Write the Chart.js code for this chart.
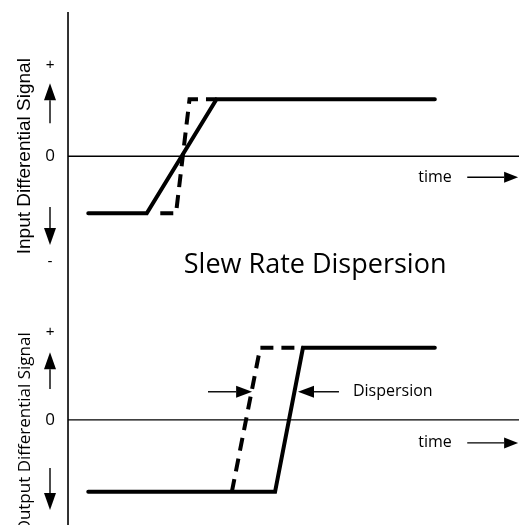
<!DOCTYPE html>
<html>
<head>
<meta charset="utf-8">
<script src="https://cdn.jsdelivr.net/npm/chart.js@4/dist/chart.umd.min.js"></script>
<style>
  html, body { margin: 0; padding: 0; background: #fff; }
  #wrap { width: 519px; height: 525px; position: relative; }
</style>
</head>
<body>
<div id="wrap"><canvas id="slewChart"></canvas></div>
<script>
// time in arbitrary units, signal in normalised units (-1 low, +1 high)
var inputSolidT  = [0.45, 1.75, 3.3, 8.15];
var inputSolidV  = [-1, -1, 1, 1];
var inputDashT   = [2.05, 2.4, 2.7, 3.3];
var inputDashV   = [-1, -1, 1, 1];
var outputSolidT = [0.45, 4.6, 5.22, 8.15];
var outputSolidV = [-1, -1, 1, 1];
var outputDashT  = [3.64, 4.27, 5.22];
var outputDashV  = [-1, 1, 1];

var panelLabels = ['Input Differential Signal', 'Output Differential Signal'];
var levelTicks  = ['+', '0', '-'];
var chartTitle  = 'Slew Rate Dispersion';

function pts(ts, vs) {
    return ts.map(function (t, i) { return { x: t, y: vs[i] }; });
}

function arrow(ctx, x1, y1, x2, y2, len, half) {
    var a = Math.atan2(y2 - y1, x2 - x1);
    var bx = x2 - len * Math.cos(a), by = y2 - len * Math.sin(a);
    ctx.beginPath();
    ctx.moveTo(x1, y1);
    ctx.lineTo(bx, by);
    ctx.stroke();
    ctx.beginPath();
    ctx.moveTo(x2, y2);
    ctx.lineTo(bx + half * Math.sin(a), by - half * Math.cos(a));
    ctx.lineTo(bx - half * Math.sin(a), by + half * Math.cos(a));
    ctx.closePath();
    ctx.fill();
}

// axes, arrows and labels of the diagram
var diagramPlugin = {
    id: 'diagram',
    afterDatasetsDraw: function (chart) {
        var ctx = chart.ctx;
        var xs = chart.scales.x, yi = chart.scales.yIn, yo = chart.scales.yOut;
        var X = function (t) { return xs.getPixelForValue(t); };
        ctx.save();
        ctx.strokeStyle = '#000';
        ctx.fillStyle = '#000';
        ctx.lineCap = 'butt';

        // vertical axis
        ctx.lineWidth = 1.6;
        ctx.beginPath();
        ctx.moveTo(X(0), 12);
        ctx.lineTo(X(0), chart.chartArea.bottom);
        ctx.stroke();
        // zero lines
        ctx.lineWidth = 1.4;
        [yi, yo].forEach(function (ys) {
            ctx.beginPath();
            ctx.moveTo(X(0), ys.getPixelForValue(0));
            ctx.lineTo(chart.chartArea.right, ys.getPixelForValue(0));
            ctx.stroke();
        });

        // level ticks and arrows
        ctx.textAlign = 'center';
        ctx.textBaseline = 'middle';
        ctx.font = '15px "Liberation Sans", Arial';
        ctx.fillText(levelTicks[0], X(-0.4), yi.getPixelForValue(1.6));
        ctx.fillText(levelTicks[2], X(-0.4), yi.getPixelForValue(-1.86));
        ctx.fillText(levelTicks[0], X(-0.4), yo.getPixelForValue(1.22));
        ctx.font = '17px "Open Sans", "Noto Sans"';
        ctx.fillText(levelTicks[1], X(-0.4), yi.getPixelForValue(0));
        ctx.fillText(levelTicks[1], X(-0.4), yo.getPixelForValue(0));

        ctx.lineWidth = 1.4;
        arrow(ctx, X(-0.4), yi.getPixelForValue(0.58), X(-0.4), yi.getPixelForValue(1.28), 17, 6);
        arrow(ctx, X(-0.4), yi.getPixelForValue(-0.89), X(-0.4), yi.getPixelForValue(-1.56), 17, 6);
        arrow(ctx, X(-0.4), yo.getPixelForValue(0.43), X(-0.4), yo.getPixelForValue(0.94), 17, 6);
        arrow(ctx, X(-0.4), yo.getPixelForValue(-0.67), X(-0.4), yo.getPixelForValue(-1.25), 17, 6);

        // time arrows
        ctx.font = '16px "Open Sans", "Noto Sans"';
        ctx.textAlign = 'left';
        ctx.fillText('time', X(7.78), yi.getPixelForValue(-0.37));
        ctx.fillText('time', X(7.78), yo.getPixelForValue(-0.32));
        arrow(ctx, X(8.87), yi.getPixelForValue(-0.37), X(10), yi.getPixelForValue(-0.37), 14, 5.5);
        arrow(ctx, X(8.87), yo.getPixelForValue(-0.32), X(10), yo.getPixelForValue(-0.32), 14, 5.5);

        // dispersion markers
        var dy = yo.getPixelForValue(0.39);
        arrow(ctx, X(3.11), dy, X(4.09), dy, 16, 6);
        arrow(ctx, X(6.02), dy, X(5.11), dy, 16, 6);
        ctx.fillText('Dispersion', X(6.33), dy);

        // title
        ctx.textAlign = 'center';
        ctx.font = '27px "Open Sans", "Noto Sans"';
        ctx.fillText(chartTitle, X(5.49), yi.getPixelForValue(-1.91));

        // rotated panel labels
        ctx.save();
        ctx.translate(X(-0.96), yi.getPixelForValue(0.0));
        ctx.rotate(-Math.PI / 2);
        ctx.font = '19px "Liberation Sans", Arial';
        ctx.fillText(panelLabels[0], 0, 0);
        ctx.restore();
        ctx.save();
        ctx.translate(X(-0.96), yo.getPixelForValue(-0.18));
        ctx.rotate(-Math.PI / 2);
        ctx.font = '17px "Open Sans", "Noto Sans"';
        ctx.fillText(panelLabels[1], 0, 0);
        ctx.restore();

        ctx.restore();
    }
};

var solidStyle = { borderColor: '#000', borderWidth: 4, borderCapStyle: 'round', borderJoinStyle: 'miter', pointRadius: 0, fill: false, tension: 0 };
var dashStyle = Object.assign({}, solidStyle, { borderDash: [13, 8], borderCapStyle: 'butt' });

var ctxSlew = document.getElementById('slewChart').getContext('2d');
var slewChart = new Chart(ctxSlew, {
    type: 'line',
    data: {
        datasets: [
            Object.assign({ label: 'Input', data: pts(inputSolidT, inputSolidV), yAxisID: 'yIn' }, solidStyle),
            Object.assign({ label: 'Input (fast)', data: pts(inputDashT, inputDashV), yAxisID: 'yIn' }, dashStyle),
            Object.assign({ label: 'Output', data: pts(outputSolidT, outputSolidV), yAxisID: 'yOut' }, solidStyle),
            Object.assign({ label: 'Output (fast)', data: pts(outputDashT, outputDashV), yAxisID: 'yOut' }, dashStyle)
        ]
    },
    options: {
        responsive: true,
        maintainAspectRatio: false,
        animation: false,
        layout: { padding: 0 },
        plugins: { legend: { display: false }, tooltip: { enabled: false } },
        scales: {
            x: { type: 'linear', min: -1.511, max: 10.02, display: false },
            yIn: { type: 'linear', position: 'left', min: -6.47, max: 2.74, display: false },
            yOut: { type: 'linear', position: 'left', min: -1.46, max: 5.83, display: false }
        }
    },
    plugins: [diagramPlugin]
});
</script>
</body>
</html>
